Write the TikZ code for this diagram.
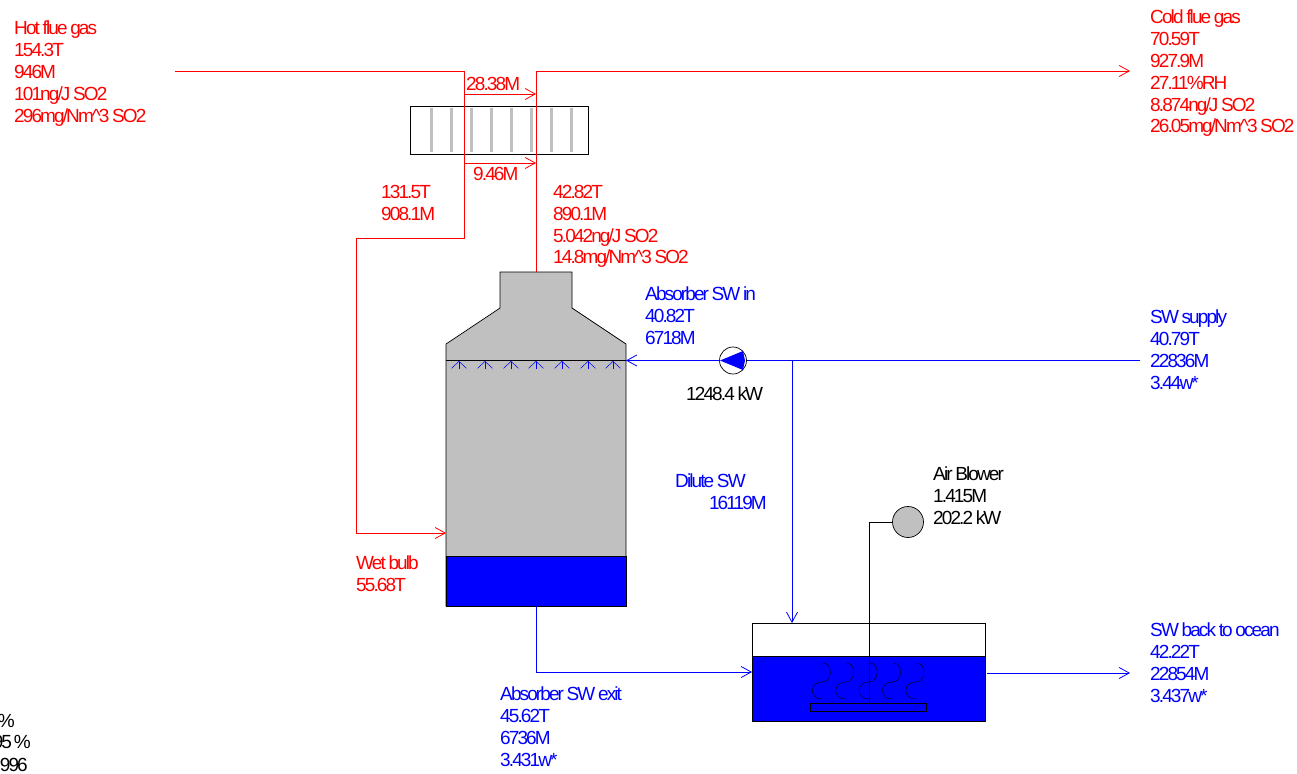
\documentclass[tikz,border=0pt]{standalone}
\usepackage{fontspec}
\setmainfont[LetterSpace=-10,WordSpace=0.8]{Liberation Sans}
\usepackage{xcolor}
\usetikzlibrary{arrows.meta}
\definecolor{gasred}{HTML}{FF0000}
\definecolor{waterblue}{HTML}{0000FF}
\definecolor{towergray}{HTML}{C0C0C0}
\begin{document}
\begin{tikzpicture}[
  x=1pt, y=-1pt,
  gas/.style={draw=gasred, line width=0.8pt, -{Straight Barb[length=10pt,width=11pt]}},
  gasline/.style={draw=gasred, line width=0.8pt},
  water/.style={draw=waterblue, line width=0.8pt, -{Straight Barb[length=10pt,width=11pt]}},
  waterline/.style={draw=waterblue, line width=0.8pt},
  spray/.style={draw=waterblue, line width=0.5pt, -{Straight Barb[length=7pt,width=15pt]}},
  unit/.style={draw=black, line width=0.7pt, inner sep=0pt},
  lbl/.style={anchor=north west, align=left, inner sep=0pt, font=\fontsize{19}{21.8}\selectfont},
  redlbl/.style={lbl, text=gasred},
  bluelbl/.style={lbl, text=waterblue}
]
  \useasboundingbox (0,0) rectangle (1297,773);

  % reheater
  \node[unit, minimum width=178pt, minimum height=48pt] (reheater) at (499,130) {};
  \foreach \xbar in {431,451,...,571}
    \draw[towergray, line width=3pt] (\xbar,108) -- (\xbar,152);

  % absorber tower
  \coordinate (stacktop) at (536,272);
  \coordinate (spraytip) at (626,360.5);
  \coordinate (gasin) at (446,533);
  \coordinate (sumpout) at (536,606);
  \draw[fill=towergray, line width=0.7pt] (500,272) -- (572,272) -- (572,308) -- (626,344)
    -- (626,606) -- (446,606) -- (446,344) -- (500,308) -- cycle;
  \draw[line width=0.9pt] (446,360.5) -- (626,360.5);
  \node[unit, fill=waterblue, minimum width=180pt, minimum height=50pt] (sump) at (536,581) {};
  \foreach \xjet in {459,485,511,536,562,588,613}
    \draw[spray] (\xjet,369) -- (\xjet,361);

  % oxidation tank
  \node[unit, minimum width=233pt, minimum height=98pt] (tank) at (868.5,672) {};
  \node[unit, fill=waterblue, minimum width=233pt, minimum height=65pt] (liquid) at (868.5,688.5) {};
  \node[unit, line width=0.9pt, minimum width=116pt, minimum height=8pt] (sparger) at (868.5,707.5) {};
  \foreach \xs in {0,1,2,3,4}
    \draw[line width=0.4pt, xshift=23.4*\xs] (823,663) .. controls (833,663) and (833,682) .. (822,682)
      .. controls (809,682) and (809,699) .. (822,699);

  % pump and blower
  \node[draw=black, circle, line width=0.7pt, fill=white, minimum size=27pt, inner sep=0pt] (pump) at (733,360.5) {};
  \fill[waterblue] (720,360.5) -- (743,351) -- (745,360.5) -- (743,370) -- cycle;
  \node[draw=black, circle, line width=0.7pt, fill=towergray, minimum size=31pt, inner sep=0pt] (blower) at (908,522) {};

  % free ends and bends
  \coordinate (hotin) at (175,71);
  \coordinate (splitin) at (464,71);
  \coordinate (splitout) at (536,71);
  \coordinate (coldout) at (1130,71);
  \coordinate (bypassa) at (464,94);
  \coordinate (bypassb) at (536,94);
  \coordinate (reheatb) at (464,163);
  \coordinate (reheatc) at (536,163);
  \coordinate (swin) at (1140,360.5);
  \coordinate (dilute) at (792,360.5);
  \coordinate (tanktop) at (792,623);
  \coordinate (tankin) at (752,672);
  \coordinate (tankout) at (987,673);
  \coordinate (oceanout) at (1130,673);

  % gas side
  \draw[gasline] (hotin) -- (splitin) -- (464,238) -- (356,238) -- (356,533);
  \draw[gas] (356,533) -- (gasin);
  \draw[gas] (stacktop) -- (splitout) -- (coldout);
  \draw[gas] (bypassa) -- (bypassb);
  \draw[gas] (reheatb) -- (reheatc);

  % water side
  \draw[waterline] (swin) -- (pump.east);
  \draw[water] (pump.west) -- (spraytip);
  \draw[water] (dilute) -- (tanktop);
  \draw[water] (sumpout) -- (536,672) -- (tankin);
  \draw[water] (tankout) -- (oceanout);
  \draw[line width=0.7pt] (blower.west) -- (869,522) -- (sparger.north -| 869,0);

  % labels
  \node[redlbl] (hotlbl) at (14,21) {Hot flue gas\\154.3T\\946M\\101ng/J SO2\\296mg/Nm\textasciicircum 3 SO2};
  \node[redlbl] (coldlbl) at (1150,10) {Cold flue gas\\70.59T\\927.9M\\27.11\%RH\\8.874ng/J SO2\\26.05mg/Nm\textasciicircum 3 SO2};
  \node[redlbl] (bypasslbl) at (466,77) {28.38M};
  \node[redlbl] (reheatlbl) at (473,167) {9.46M};
  \node[redlbl] (inletlbl) at (381,185) {131.5T\\908.1M};
  \node[redlbl] (outletlbl) at (553,185) {42.82T\\890.1M\\5.042ng/J SO2\\14.8mg/Nm\textasciicircum 3 SO2};
  \node[redlbl] (wetlbl) at (356,556) {Wet bulb\\55.68T};
  \node[bluelbl] (abinlbl) at (645,287) {Absorber SW in\\40.82T\\6718M};
  \node[bluelbl] (supplylbl) at (1150,310) {SW supply\\40.79T\\22836M\\3.44w*};
  \node[bluelbl] (dilutelbl) at (675,474) {Dilute SW};
  \node[bluelbl, anchor=north east] (dilutemlbl) at (767,496) {16119M};
  \node[bluelbl] (backlbl) at (1150,623) {SW back to ocean\\42.22T\\22854M\\3.437w*};
  \node[bluelbl] (abexlbl) at (500,687) {Absorber SW exit\\45.62T\\6736M\\3.431w*};
  \node[lbl] (powerlbl) at (686,387) {1248.4 kW};
  \node[lbl] (blowerlbl) at (933,467) {Air Blower\\1.415M\\202.2 kW};
  \node[lbl, anchor=north east] (cutalbl) at (15,714) {\%};
  \node[lbl, anchor=north east] (cutblbl) at (31,735) {95\kern-0.8pt\ \%};
  \node[lbl, anchor=north east] (cutclbl) at (28,758) {996};
\end{tikzpicture}
\end{document}
